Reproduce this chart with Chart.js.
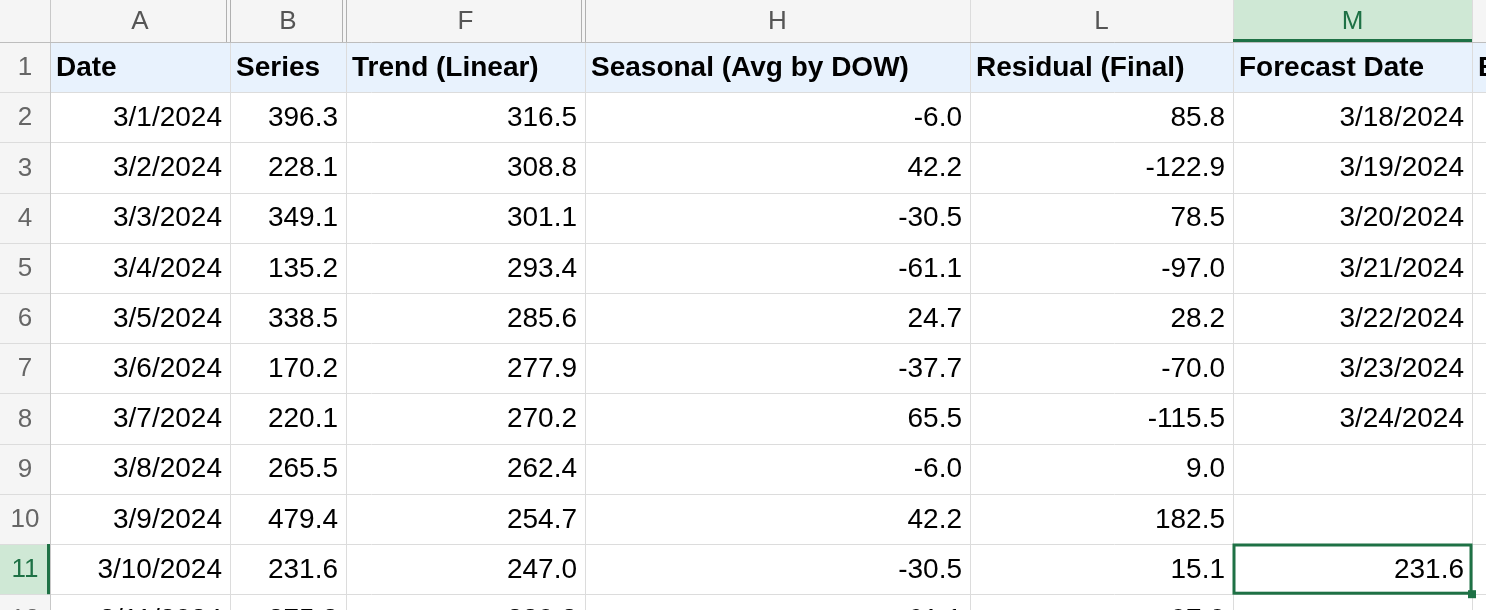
<!DOCTYPE html>
<html>
<head>
<meta charset="utf-8">
<script src="https://cdn.jsdelivr.net/npm/chart.js@4/dist/chart.umd.min.js"></script>
<style>
  html, body { margin: 0; padding: 0; background: #fff; overflow: hidden; }
  canvas { display: block; }
</style>
</head>
<body>
<canvas id="sheet" width="1486" height="610"></canvas>
<script>
// ========== DONNÉES ==========
const columnLetters = ["A", "B", "F", "H", "L", "M"];
const headers = ["Date", "Series", "Trend (Linear)", "Seasonal (Avg by DOW)", "Residual (Final)", "Forecast Date"];
const dates = ["3/1/2024", "3/2/2024", "3/3/2024", "3/4/2024", "3/5/2024", "3/6/2024", "3/7/2024", "3/8/2024", "3/9/2024", "3/10/2024", "3/11/2024"];
const series = [396.3, 228.1, 349.1, 135.2, 338.5, 170.2, 220.1, 265.5, 479.4, 231.6, 275.3];
const trend = [316.5, 308.8, 301.1, 293.4, 285.6, 277.9, 270.2, 262.4, 254.7, 247.0, 239.3];
const seasonal = [-6.0, 42.2, -30.5, -61.1, 24.7, -37.7, 65.5, -6.0, 42.2, -30.5, -61.1];
const residual = [85.8, -122.9, 78.5, -97.0, 28.2, -70.0, -115.5, 9.0, 182.5, 15.1, 97.0];
const forecastDates = ["3/18/2024", "3/19/2024", "3/20/2024", "3/21/2024", "3/22/2024", "3/23/2024", "3/24/2024", "", "", "231.6", ""];

// ========== MISE EN PAGE ==========
const W = 1486, H = 610;
const colEdges = [0, 50, 230, 346, 585, 970, 1233, 1472, 1486];
const hiddenAfter = [2, 3, 4]; // double lines before F, H, L
const headerH = 42, rowH = 50.2;
const FONT = '"Liberation Sans", Arial, sans-serif';
const GREEN = "#1e7145";

const sheetPlugin = {
  id: "sheet",
  afterDraw(chart) {
    const ctx = chart.ctx;
    const sx = chart.scales.x, sy = chart.scales.y;
    const px = (v) => sx.getPixelForValue(v);
    const py = (v) => sy.getPixelForValue(v);
    const rowTop = (r) => headerH + (r - 1) * rowH; // r = 1..12

    ctx.save();
    // column header band
    ctx.fillStyle = "#f5f5f5";
    ctx.fillRect(px(0), py(0), px(W) - px(0), py(headerH) - py(0));
    ctx.fillRect(px(0), py(headerH), px(colEdges[1]) - px(0), py(H) - py(headerH));
    // selected column header M
    ctx.fillStyle = "#cfe8d5";
    ctx.fillRect(px(colEdges[6]), py(0), px(colEdges[7]) - px(colEdges[6]), py(headerH) - py(0));
    // selected row number 11
    ctx.fillRect(px(0), py(rowTop(11)), px(colEdges[1]) - px(0), py(rowTop(12)) - py(rowTop(11)));
    // row 1 blue fill
    ctx.fillStyle = "#e8f2fd";
    ctx.fillRect(px(colEdges[1]), py(rowTop(1)), px(W) - px(colEdges[1]), py(rowTop(2)) - py(rowTop(1)));

    // grid lines
    ctx.strokeStyle = "#dcdcdc";
    ctx.lineWidth = 1;
    for (let r = 1; r <= 12; r++) {
      const y = Math.round(py(rowTop(r))) + 0.5;
      ctx.beginPath(); ctx.moveTo(px(0), y); ctx.lineTo(px(W), y); ctx.stroke();
    }
    colEdges.slice(1, -1).forEach((e, i) => {
      const x = Math.round(px(e)) + 0.5;
      ctx.strokeStyle = i === 0 ? "#c8c8c8" : "#dcdcdc";
      ctx.beginPath(); ctx.moveTo(x, py(0)); ctx.lineTo(x, py(H)); ctx.stroke();
      if (hiddenAfter.includes(i + 1)) {
        ctx.strokeStyle = "#b0b0b0";
        ctx.beginPath(); ctx.moveTo(x - 4, py(0)); ctx.lineTo(x - 4, py(headerH)); ctx.stroke();
        ctx.beginPath(); ctx.moveTo(x, py(0)); ctx.lineTo(x, py(headerH)); ctx.stroke();
      }
    });
    // header bottom line
    ctx.strokeStyle = "#bdbdbd";
    ctx.beginPath(); ctx.moveTo(px(0), py(headerH) + 0.5); ctx.lineTo(px(W), py(headerH) + 0.5); ctx.stroke();
    // green bottom under M header, right border of row 11 header
    ctx.fillStyle = GREEN;
    ctx.fillRect(px(colEdges[6]), py(headerH) - 3, px(colEdges[7]) - px(colEdges[6]), 3);
    ctx.fillRect(px(colEdges[1]) - 3, py(rowTop(11)), 3, py(rowTop(12)) - py(rowTop(11)));

    // column letters
    ctx.font = "26px " + FONT;
    ctx.textAlign = "center"; ctx.textBaseline = "middle";
    columnLetters.forEach((c, i) => {
      ctx.fillStyle = i === 5 ? GREEN : "#555";
      ctx.fillText(c, (px(colEdges[i + 1]) + px(colEdges[i + 2])) / 2, py(headerH / 2 + 1));
    });
    // row numbers
    for (let r = 1; r <= 12; r++) {
      ctx.fillStyle = r === 11 ? GREEN : "#666";
      ctx.fillText(String(r), px(colEdges[1] / 2), py(rowTop(r) + rowH / 2 + 1));
    }

    // headers row
    ctx.fillStyle = "#000";
    ctx.font = "bold 28px " + FONT;
    ctx.textAlign = "left";
    headers.forEach((h, i) => ctx.fillText(h, px(colEdges[i + 1] + 6), py(rowTop(1) + rowH / 2 + 1)));
    ctx.fillText("E", px(colEdges[7] + 6), py(rowTop(1) + rowH / 2 + 1));

    // data rows
    ctx.font = "28px " + FONT;
    ctx.textAlign = "right";
    const cols = [dates, series.map((v) => v.toFixed(1)), trend.map((v) => v.toFixed(1)),
      seasonal.map((v) => v.toFixed(1)), residual.map((v) => v.toFixed(1)), forecastDates];
    dates.forEach((_, k) => {
      const yc = py(rowTop(k + 2) + rowH / 2 + 1);
      cols.forEach((col, i) => {
        if (col[k]) ctx.fillText(col[k], px(colEdges[i + 2] - 8), yc);
      });
    });

    // selected cell M11
    ctx.strokeStyle = GREEN; ctx.lineWidth = 3;
    ctx.strokeRect(px(colEdges[6]) + 1, py(rowTop(11)) + 1, px(colEdges[7]) - px(colEdges[6]) - 2, py(rowTop(12)) - py(rowTop(11)) - 2);
    ctx.fillStyle = GREEN;
    ctx.fillRect(px(colEdges[7]) - 4, py(rowTop(12)) - 4, 8, 8);
    ctx.restore();
  },
};

document.addEventListener("DOMContentLoaded", () => {
  new Chart(document.getElementById("sheet"), {
    type: "scatter",
    data: { datasets: [] },
    options: {
      responsive: false,
      animation: false,
      layout: { padding: 0 },
      plugins: { legend: { display: false }, tooltip: { enabled: false } },
      scales: {
        x: { type: "linear", min: 0, max: W, display: false },
        y: { type: "linear", min: 0, max: H, reverse: true, display: false },
      },
    },
    plugins: [sheetPlugin],
  });
});
</script>
</body>
</html>
